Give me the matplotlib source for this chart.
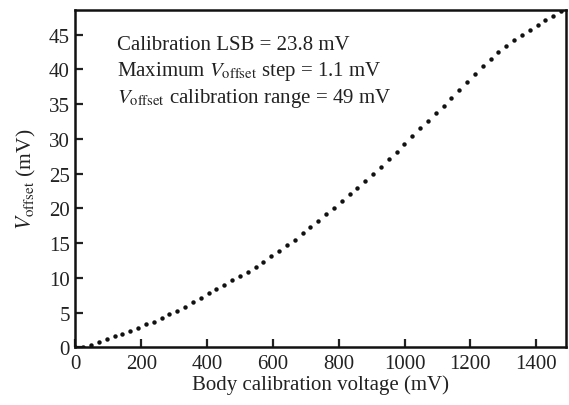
import numpy as np
import matplotlib
matplotlib.use("Agg")
import matplotlib.pyplot as plt

plt.rcParams['font.family'] = ['Liberation Serif', 'DejaVu Serif']
plt.rcParams['mathtext.fontset'] = 'stix'

# Calibration codes and LSB (mV)
lsb_mv = 23.8
codes = list(range(63))
v_offset = [0.0, 0.05, 0.38, 0.72, 1.15, 1.58, 1.91, 2.34, 2.77, 3.30,
            3.68, 4.16, 4.74, 5.17, 5.83, 6.46, 7.06, 7.78, 8.38, 9.02,
            9.62, 10.3, 10.9, 11.55, 12.33, 13.2, 13.9, 14.7, 15.5, 16.4,
            17.3, 18.2, 19.15, 20.1, 21.1, 22.0, 22.9, 23.9, 25.0, 26.0,
            27.05, 28.1, 29.2, 30.4, 31.5, 32.5, 33.7, 34.7, 35.9, 37.0,
            38.2, 39.3, 40.5, 41.5, 42.5, 43.3, 44.2, 45.0, 45.7, 46.4,
            47.1, 47.7, 48.4]
body_voltage = [c * lsb_mv for c in codes]

xticks = [0, 200, 400, 600, 800, 1000, 1200, 1400]
yticks = [0, 5, 10, 15, 20, 25, 30, 35, 40, 45]

fig = plt.figure(figsize=(5.69, 4.06), dpi=100)
ax = fig.add_axes([0.1325, 0.142, 0.862, 0.832])

ax.plot(body_voltage, v_offset, linestyle='none', marker='o', markersize=3.2,
        color='#111111', markeredgewidth=0)

ax.set_xlim(0, 1490)
ax.set_ylim(0, 48.6)
ax.set_xticks(xticks)
ax.set_yticks(yticks)
ax.tick_params(direction='in', length=6, width=1.6, labelsize=15,
               colors='#222222')
ax.tick_params(axis='x', pad=5)
ax.tick_params(axis='y', pad=4)
for s in ax.spines.values():
    s.set_linewidth(1.8)
    s.set_color('#111111')

ax.set_xlabel('Body calibration voltage (mV)', fontsize=15, labelpad=1,
              color='#222222')
ax.set_ylabel(r'$V_{\mathrm{offset}}$ (mV)', fontsize=15.5, labelpad=8,
              color='#222222')

tx = 126
fs = 15
ax.text(tx, 43.6, 'Calibration LSB = 23.8 mV', fontsize=fs, va='center',
        color='#222222')
ax.text(tx, 39.8, r'Maximum $V_{\mathrm{offset}}$ step = 1.1 mV', fontsize=fs,
        va='center', color='#222222')
ax.text(tx, 36.0, r'$V_{\mathrm{offset}}$ calibration range = 49 mV', fontsize=fs,
        va='center', color='#222222')

fig.savefig('out.png', dpi=100)
